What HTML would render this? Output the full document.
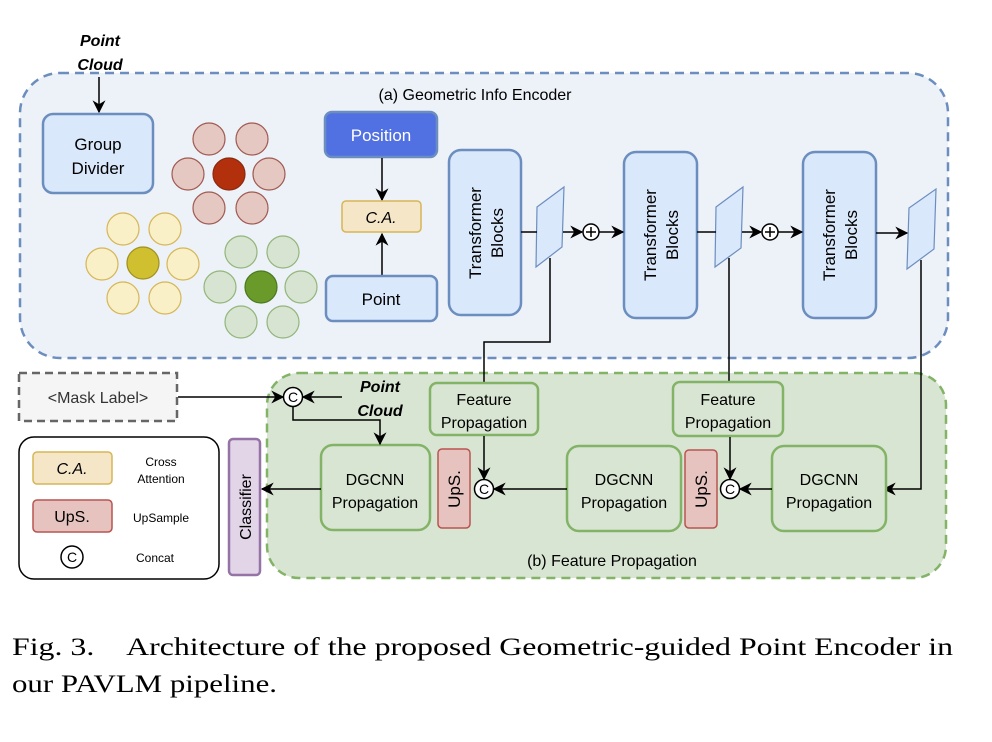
<!DOCTYPE html>
<html><head><meta charset="utf-8"><style>
html,body{margin:0;padding:0;background:#fff;}
svg{display:block;}
.s{font-family:"Liberation Sans",sans-serif;}
.cap{font-family:"Liberation Serif","Times New Roman",serif;font-size:25px;}
</style></head><body>
<svg width="992" height="742" viewBox="0 0 992 742" xmlns="http://www.w3.org/2000/svg">
<defs>
<marker id="a" viewBox="0 0 10 10" refX="9" refY="5" markerWidth="13" markerHeight="13" orient="auto-start-reverse" markerUnits="userSpaceOnUse">
<path d="M0,0 L10,5 L0,10 L3,5 z" fill="#000"/></marker>
</defs>
<g class="s">
<rect x="20" y="73" width="928" height="285" rx="40" fill="#edf1f8" stroke="#6c8ebf" stroke-width="2.5" stroke-dasharray="9,6"/>
<rect x="267" y="373" width="679" height="205" rx="32" fill="#d9e5d3" stroke="#82b366" stroke-width="2.5" stroke-dasharray="9,6"/>
<text x="475" y="100" font-size="16" text-anchor="middle">(a) Geometric Info Encoder</text>
<text x="612" y="566" font-size="16" text-anchor="middle">(b) Feature Propagation</text>

<text x="100" y="46" font-size="16" font-weight="bold" font-style="italic" text-anchor="middle">Point</text>
<text x="100" y="70" font-size="16" font-weight="bold" font-style="italic" text-anchor="middle">Cloud</text>
<line x1="99" y1="77" x2="99" y2="112" stroke="#000" stroke-width="1.5" marker-end="url(#a)"/>
<rect x="43" y="114" width="110" height="79" rx="10" fill="#dae8fc" stroke="#6c8ebf" stroke-width="2.5"/>
<text x="98" y="150" font-size="17" text-anchor="middle">Group</text>
<text x="98" y="174" font-size="17" text-anchor="middle">Divider</text>

<g fill="#e6c8c3" stroke="#a05a50" stroke-width="1.2">
<circle cx="209" cy="139" r="16"/><circle cx="252" cy="139" r="16"/><circle cx="188" cy="174" r="16"/><circle cx="269" cy="174" r="16"/><circle cx="209" cy="208" r="16"/><circle cx="252" cy="208" r="16"/></g>
<circle cx="229" cy="174" r="16" fill="#b3300d" stroke="#8a2a10" stroke-width="1.2"/>
<g fill="#f9f0c8" stroke="#d6b656" stroke-width="1.2">
<circle cx="123" cy="229" r="16"/><circle cx="165" cy="229" r="16"/><circle cx="102" cy="264" r="16"/><circle cx="183" cy="264" r="16"/><circle cx="123" cy="298" r="16"/><circle cx="165" cy="298" r="16"/></g>
<circle cx="143" cy="263" r="16" fill="#d0c030" stroke="#a09020" stroke-width="1.2"/>
<g fill="#d7e4d2" stroke="#92b67a" stroke-width="1.2">
<circle cx="241" cy="252" r="16"/><circle cx="283" cy="252" r="16"/><circle cx="220" cy="287" r="16"/><circle cx="301" cy="287" r="16"/><circle cx="241" cy="322" r="16"/><circle cx="283" cy="322" r="16"/></g>
<circle cx="261" cy="287" r="16" fill="#6a9a2a" stroke="#4a7a20" stroke-width="1.2"/>

<rect x="325" y="112" width="112" height="45" rx="7" fill="#5170e2" stroke="#6c8ebf" stroke-width="2.5"/>
<text x="381" y="141" font-size="17" fill="#fff" text-anchor="middle">Position</text>
<line x1="382" y1="158" x2="382" y2="200" stroke="#000" stroke-width="1.5" marker-end="url(#a)"/>
<rect x="342" y="201" width="79" height="31" rx="4" fill="#f5e6c8" stroke="#d6b656" stroke-width="1.5"/>
<text x="381" y="223" font-size="16" font-style="italic" text-anchor="middle">C.A.</text>
<line x1="382" y1="276" x2="382" y2="234" stroke="#000" stroke-width="1.5" marker-end="url(#a)"/>
<rect x="326" y="276" width="111" height="45" rx="7" fill="#dae8fc" stroke="#6c8ebf" stroke-width="2.5"/>
<text x="381" y="305" font-size="17" text-anchor="middle">Point</text>

<g fill="#dae8fc" stroke="#6c8ebf" stroke-width="2.5">
<rect x="449" y="150" width="72" height="165" rx="12"/>
<rect x="624" y="152" width="73" height="166" rx="12"/>
<rect x="803" y="152" width="73" height="166" rx="12"/>
</g>
<g font-size="17" text-anchor="middle">
<text transform="translate(485,233) rotate(-90)"><tspan x="0" y="-4">Transformer</tspan><tspan x="0" y="18">Blocks</tspan></text>
<text transform="translate(660,235) rotate(-90)"><tspan x="0" y="-4">Transformer</tspan><tspan x="0" y="18">Blocks</tspan></text>
<text transform="translate(839,235) rotate(-90)"><tspan x="0" y="-4">Transformer</tspan><tspan x="0" y="18">Blocks</tspan></text>
</g>
<g fill="#dae8fc" stroke="#6c8ebf" stroke-width="1.2">
<polygon points="537,207 564,187 562,247 536,267"/>
<polygon points="716,207 743,187 741,248 715,267"/>
<polygon points="909,208 936,189 934,249 907,269"/>
</g>
<g stroke="#000" stroke-width="1.5" fill="none">
<line x1="521" y1="232" x2="537" y2="232"/>
<line x1="563" y1="232" x2="582" y2="232" marker-end="url(#a)"/>
<line x1="599" y1="232" x2="623" y2="232" marker-end="url(#a)"/>
<line x1="697" y1="232" x2="716" y2="232"/>
<line x1="742" y1="232" x2="761" y2="232" marker-end="url(#a)"/>
<line x1="778" y1="232" x2="802" y2="232" marker-end="url(#a)"/>
<line x1="876" y1="233" x2="907" y2="233" marker-end="url(#a)"/>
<polyline points="550,258 550,342 484,342 484,383"/>
<line x1="729" y1="258" x2="729" y2="382"/>
<polyline points="921,260 921,489 884,489" marker-end="url(#a)"/>
<circle cx="591" cy="232" r="8" fill="#fff"/>
<circle cx="770" cy="232" r="8" fill="#fff"/>
<line x1="586" y1="232" x2="596" y2="232"/><line x1="591" y1="227" x2="591" y2="237"/>
<line x1="765" y1="232" x2="775" y2="232"/><line x1="770" y1="227" x2="770" y2="237"/>
</g>

<g fill="#d9e5d3" stroke="#82b366" stroke-width="2.5">
<rect x="430" y="383" width="108" height="52" rx="7"/>
<rect x="673" y="382" width="110" height="54" rx="7"/>
<rect x="321" y="445" width="109" height="85" rx="12"/>
<rect x="567" y="446" width="114" height="85" rx="12"/>
<rect x="772" y="446" width="114" height="85" rx="12"/>
</g>
<g font-size="16" text-anchor="middle">
<text x="484" y="405">Feature</text><text x="484" y="428">Propagation</text>
<text x="728" y="405">Feature</text><text x="728" y="428">Propagation</text>
<text x="375" y="485">DGCNN</text><text x="375" y="508">Propagation</text>
<text x="624" y="485">DGCNN</text><text x="624" y="508">Propagation</text>
<text x="829" y="485">DGCNN</text><text x="829" y="508">Propagation</text>
</g>
<g fill="#e6c3bf" stroke="#b85450" stroke-width="1.5">
<rect x="438" y="449" width="32" height="79" rx="4"/>
<rect x="685" y="450" width="32" height="78" rx="4"/>
</g>
<text transform="translate(460,489) rotate(-90)" font-size="17" text-anchor="middle">UpS.</text>
<text transform="translate(707,489) rotate(-90)" font-size="17" text-anchor="middle">UpS.</text>

<g stroke="#000" stroke-width="1.5" fill="none">
<line x1="484" y1="436" x2="484" y2="479" marker-end="url(#a)"/>
<line x1="730" y1="437" x2="730" y2="479" marker-end="url(#a)"/>
<line x1="772" y1="489" x2="740" y2="489" marker-end="url(#a)"/>
<line x1="567" y1="489" x2="494" y2="489" marker-end="url(#a)"/>
<line x1="321" y1="489" x2="262" y2="489" marker-end="url(#a)"/>
<line x1="178" y1="397" x2="283" y2="397" marker-end="url(#a)"/>
<line x1="342" y1="397" x2="303" y2="397" marker-end="url(#a)"/>
<polyline points="293,406 293,420 380,420 380,444" marker-end="url(#a)"/>
</g>
<g stroke="#000" stroke-width="1.5" fill="#fff">
<circle cx="484" cy="489" r="9.5"/><circle cx="730" cy="489" r="9.5"/><circle cx="293" cy="397" r="9.5"/>
</g>
<g font-size="14" text-anchor="middle">
<text x="484" y="494">C</text><text x="730" y="494">C</text><text x="293" y="402">C</text>
</g>
<text x="380" y="392" font-size="16" font-weight="bold" font-style="italic" text-anchor="middle">Point</text>
<text x="380" y="416" font-size="16" font-weight="bold" font-style="italic" text-anchor="middle">Cloud</text>

<rect x="19" y="373" width="158" height="48" fill="#f5f5f5" stroke="#666" stroke-width="2.5" stroke-dasharray="8,5"/>
<text x="98" y="403" font-size="16" fill="#333" text-anchor="middle">&lt;Mask Label&gt;</text>

<rect x="229" y="439" width="31" height="136" rx="4" fill="#e1d5e7" stroke="#9673a6" stroke-width="2.5"/>
<text transform="translate(251,507) rotate(-90)" font-size="16" text-anchor="middle">Classifier</text>

<rect x="19" y="437" width="200" height="142" rx="15" fill="#fff" stroke="#000" stroke-width="1.5"/>
<rect x="33" y="452" width="79" height="32" rx="4" fill="#f5e6c8" stroke="#d6b656" stroke-width="1.5"/>
<text x="72" y="474" font-size="16" font-style="italic" text-anchor="middle">C.A.</text>
<text x="161" y="466" font-size="12" text-anchor="middle">Cross</text>
<text x="161" y="483" font-size="12" text-anchor="middle">Attention</text>
<rect x="33" y="500" width="79" height="32" rx="4" fill="#e6c3bf" stroke="#b85450" stroke-width="1.5"/>
<text x="72" y="522" font-size="16" text-anchor="middle">UpS.</text>
<text x="161" y="522" font-size="12" text-anchor="middle">UpSample</text>
<circle cx="72" cy="557" r="11" fill="#fff" stroke="#000" stroke-width="1.5"/>
<text x="72" y="562" font-size="14" text-anchor="middle">C</text>
<text x="155" y="562" font-size="12" text-anchor="middle">Concat</text>
</g>

<text class="cap" x="12" y="655" textLength="941" lengthAdjust="spacingAndGlyphs">Fig. 3.&#160;&#160;&#160;&#160;Architecture of the proposed Geometric-guided Point Encoder in</text>
<text class="cap" x="12" y="692" textLength="265" lengthAdjust="spacingAndGlyphs">our PAVLM pipeline.</text>
</svg>
</body></html>
